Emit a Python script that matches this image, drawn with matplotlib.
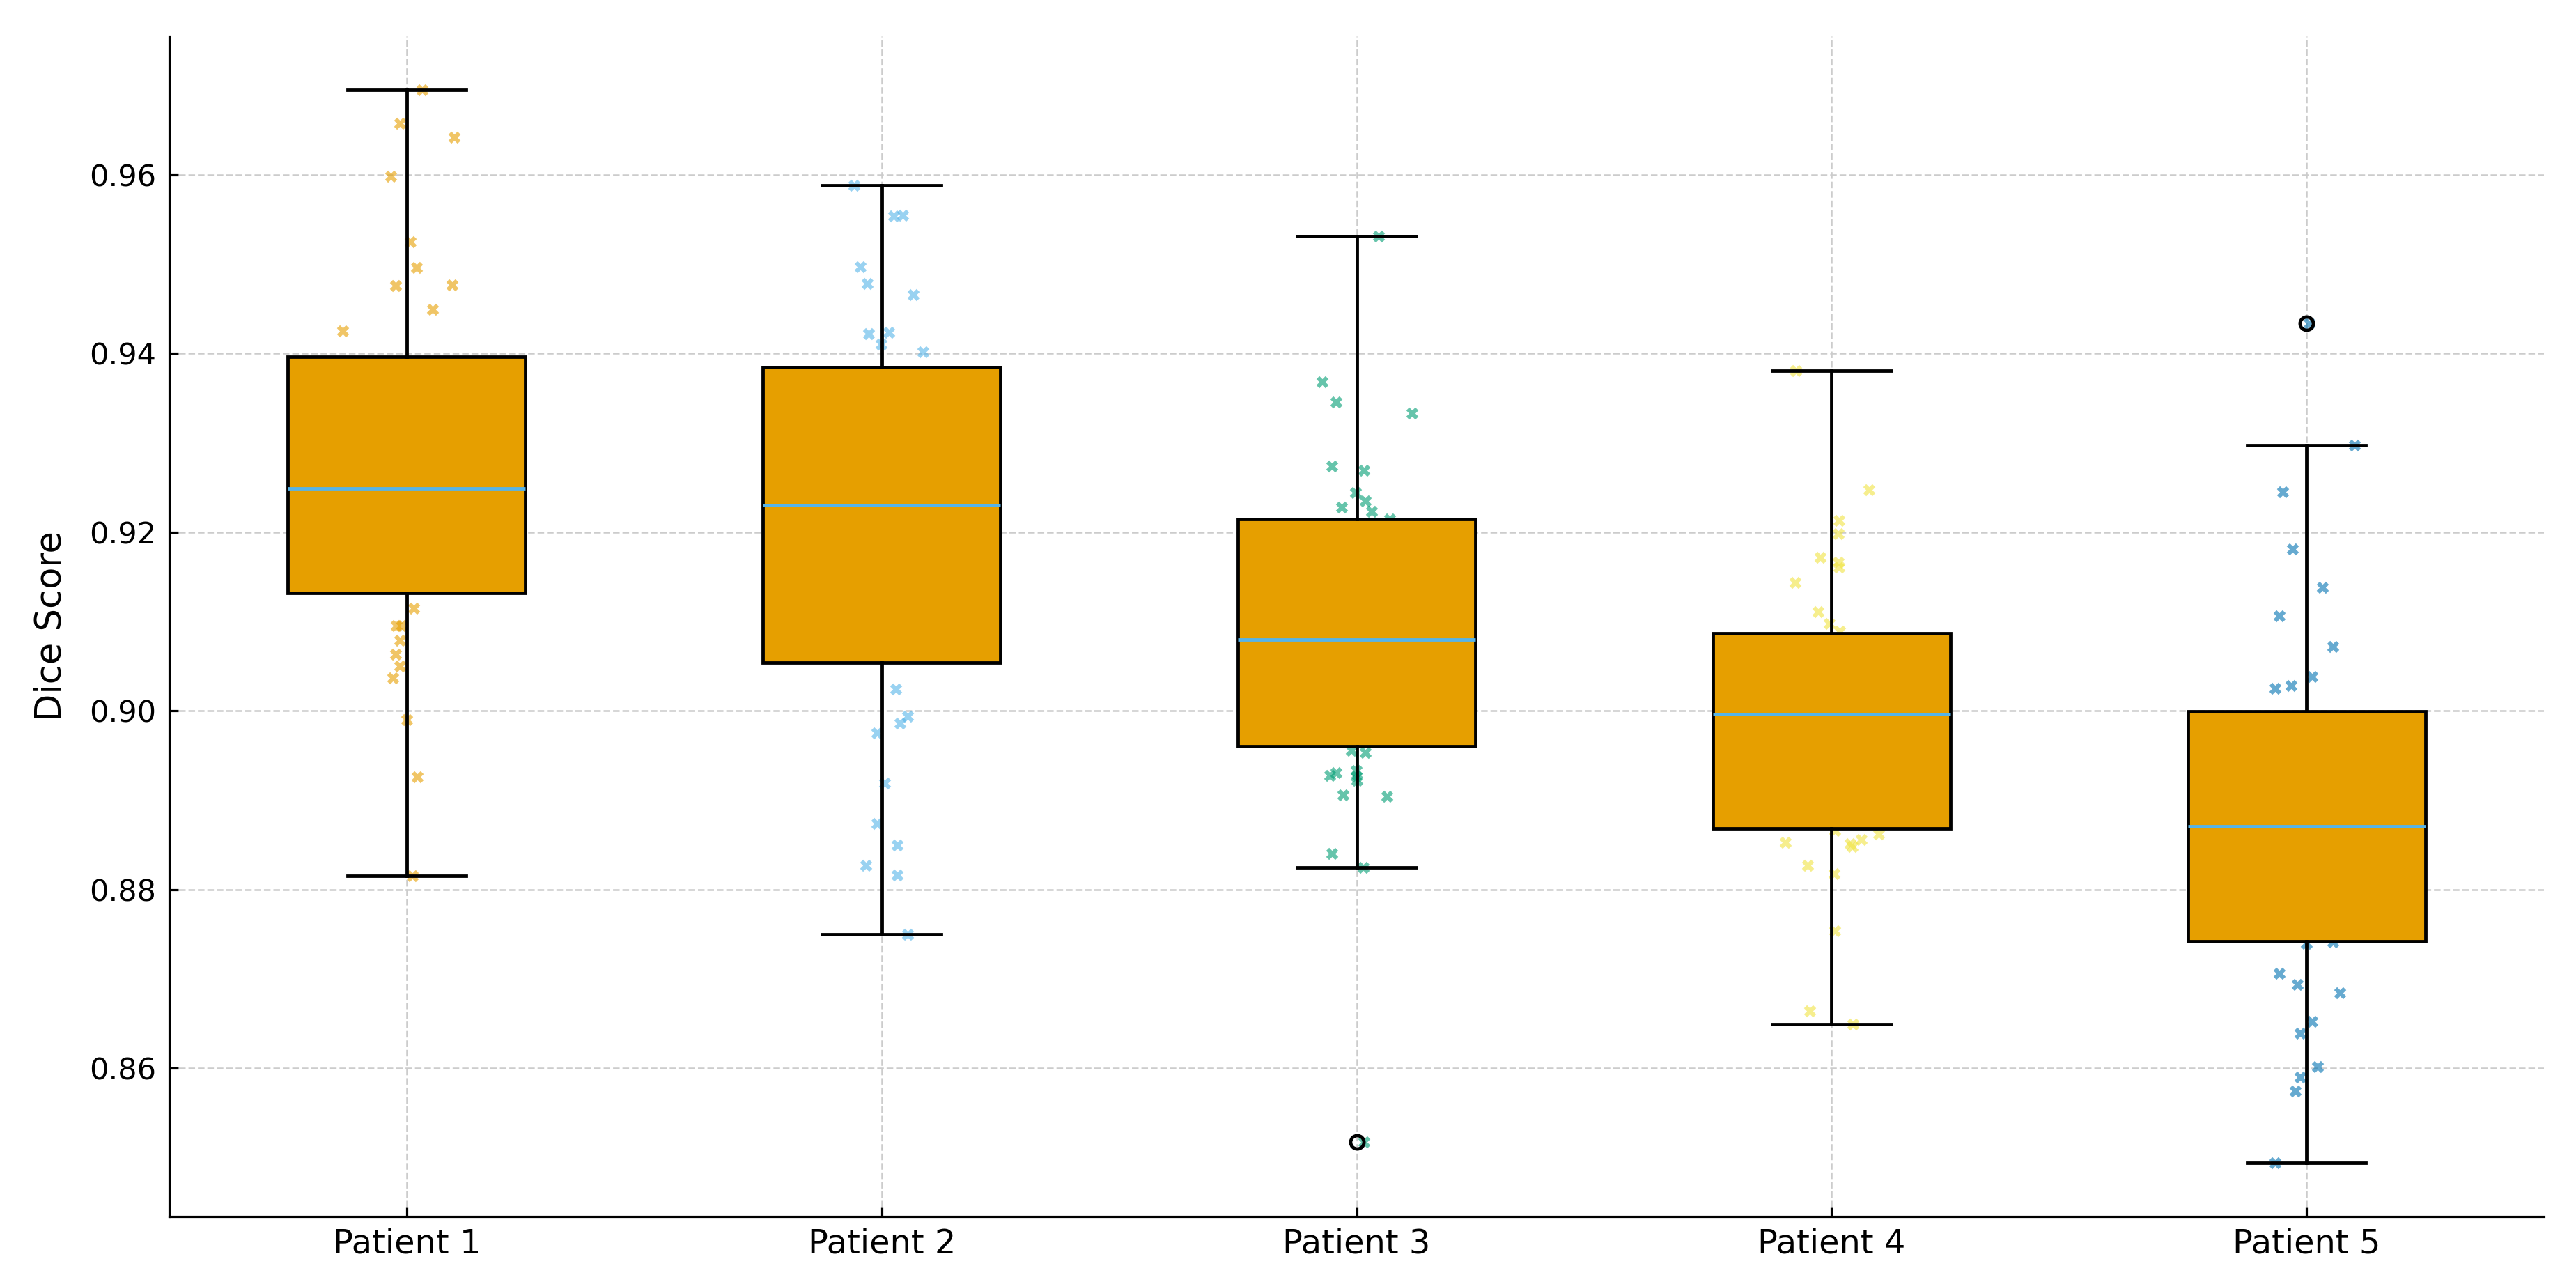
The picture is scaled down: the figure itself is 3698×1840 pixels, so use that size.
import numpy as np
import matplotlib
matplotlib.use("Agg")
import matplotlib.pyplot as plt

# ---- data
patients = ["Patient 1", "Patient 2", "Patient 3", "Patient 4", "Patient 5"]

# box statistics (Dice score)
q1 = [0.9132, 0.9054, 0.8960, 0.8868, 0.8742]
med = [0.9249, 0.9230, 0.9080, 0.8996, 0.8871]
q3 = [0.9396, 0.9385, 0.9215, 0.9087, 0.8999]
whislo = [0.8815, 0.8750, 0.8825, 0.8649, 0.8494]
whishi = [0.9695, 0.9588, 0.9531, 0.9381, 0.9297]
fliers = [[], [], [0.8517], [], [0.9434]]

# visible individual scores (points inside the boxes are hidden)
p1_scores = [0.9695, 0.9658, 0.9642, 0.9598, 0.9525, 0.9496, 0.9476, 0.9477, 0.9449, 0.9425,
             0.9115, 0.9095, 0.9095, 0.9079, 0.9063, 0.9050, 0.9037, 0.8990, 0.8926, 0.8815]
p2_scores = [0.9588, 0.9554, 0.9555, 0.9497, 0.9478, 0.9466, 0.9422, 0.9424, 0.9410, 0.9402,
             0.9024, 0.8994, 0.8986, 0.8975, 0.8919, 0.8874, 0.8850, 0.8827, 0.8816, 0.8750]
p3_scores = [0.9531, 0.9368, 0.9346, 0.9333, 0.9274, 0.9269, 0.9244, 0.9235, 0.9228, 0.9223,
             0.9215, 0.8956, 0.8953, 0.8931, 0.8928, 0.8933, 0.8927, 0.8922, 0.8906, 0.8904,
             0.8840, 0.8825, 0.8517]
p4_scores = [0.9381, 0.9247, 0.9213, 0.9198, 0.9172, 0.9166, 0.9161, 0.9144, 0.9111, 0.9098,
             0.9089, 0.8866, 0.8862, 0.8856, 0.8851, 0.8848, 0.8853, 0.8827, 0.8818, 0.8754,
             0.8664, 0.8649]
p5_scores = [0.9434, 0.9297, 0.9245, 0.9181, 0.9138, 0.9106, 0.9072, 0.9038, 0.9028, 0.9025,
             0.8740, 0.8741, 0.8706, 0.8694, 0.8684, 0.8652, 0.8639, 0.8602, 0.8590, 0.8574,
             0.8494]

# horizontal jitter of each point around its patient (as seen in the picture)
p1_jitter = [0.032, -0.015, 0.100, -0.033, 0.007, 0.020, -0.024, 0.095, 0.055, -0.135,
             0.015, -0.022, -0.012, -0.015, -0.024, -0.015, -0.029, 0.000, 0.022, 0.012]
p2_jitter = [-0.058, 0.025, 0.045, -0.045, -0.031, 0.066, -0.028, 0.015, -0.001, 0.087,
             0.030, 0.054, 0.039, -0.010, 0.006, -0.010, 0.033, -0.033, 0.033, 0.055]
p3_jitter = [0.046, -0.072, -0.043, 0.116, -0.052, 0.016, -0.002, 0.019, -0.032, 0.032,
             0.070, -0.011, 0.019, -0.043, -0.057, -0.001, -0.001, 0.000, -0.029, 0.064,
             -0.052, 0.014, 0.016]
p4_jitter = [-0.076, 0.079, 0.016, 0.014, -0.024, 0.014, 0.015, -0.077, -0.029, -0.005,
             0.017, 0.007, 0.099, 0.063, 0.039, 0.044, -0.098, -0.050, 0.005, 0.007,
             -0.046, 0.045]
p5_jitter = [0.006, 0.101, -0.050, -0.030, 0.034, -0.057, 0.056, 0.012, -0.032, -0.066,
             0.000, 0.055, -0.057, -0.019, 0.070, 0.012, -0.013, 0.024, -0.014, -0.023,
             -0.066]

scores = [p1_scores, p2_scores, p3_scores, p4_scores, p5_scores]
jitters = [p1_jitter, p2_jitter, p3_jitter, p4_jitter, p5_jitter]
point_colors = ["#E69F00", "#56B4E9", "#009E73", "#F0E442", "#0072B2"]

# ---- plot
fig = plt.figure(figsize=(3699 / 230, 1840 / 230), dpi=230)
ax = fig.add_axes([0.0657, 0.0511, 0.9873 - 0.0657, 0.9717 - 0.0511])

positions = np.arange(1, len(patients) + 1)

for pos, y, jit, col in zip(positions, scores, jitters, point_colors):
    ax.scatter(pos + np.asarray(jit), y, marker="X", s=30, color=col,
               alpha=0.6, linewidths=0, zorder=1)

stats = []
for i, name in enumerate(patients):
    stats.append(dict(label=name, q1=q1[i], med=med[i], q3=q3[i],
                      whislo=whislo[i], whishi=whishi[i], fliers=fliers[i]))

ax.bxp(stats, positions=positions, widths=0.5, patch_artist=True,
       boxprops=dict(facecolor="#E69F00", edgecolor="black", linewidth=1.5),
       medianprops=dict(color="#56B4E9", linewidth=1.5),
       whiskerprops=dict(color="black", linewidth=1.5),
       capprops=dict(color="black", linewidth=1.5),
       flierprops=dict(marker="o", markerfacecolor="none", markeredgecolor="black",
                       markersize=6, markeredgewidth=1.5),
       zorder=2)

ax.set_xticks(positions)
ax.set_xticklabels(patients, fontsize=15)
ax.tick_params(axis="x", direction="in", length=4, width=1.0, pad=5)
ax.tick_params(axis="y", direction="in", length=4, width=1.0, pad=6, labelsize=13.5)
ax.set_ylabel("Dice Score", fontsize=16, labelpad=9)

ax.grid(True, linestyle="--", color="#cccccc", linewidth=0.8)
ax.set_axisbelow(True)
ax.spines["top"].set_visible(False)
ax.spines["right"].set_visible(False)
ax.spines["left"].set_linewidth(1.0)
ax.spines["bottom"].set_linewidth(1.0)
ax.set_xlim(0.5, 5.5)

fig.savefig("out.png", dpi=230)
plt.close(fig)
